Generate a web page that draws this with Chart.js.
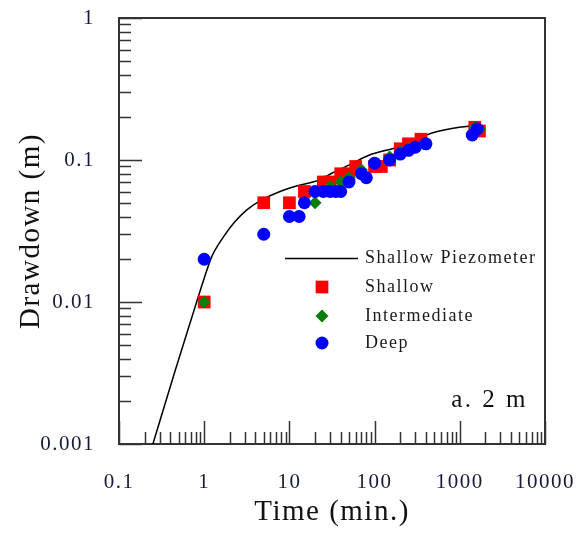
<!DOCTYPE html>
<html>
<head>
<meta charset="utf-8">
<script src="https://cdn.jsdelivr.net/npm/chart.js@4/dist/chart.umd.min.js"></script>
<style>
html,body{margin:0;padding:0;background:#fff;}
#wrap{width:582px;height:535px;}
</style>
</head>
<body>
<div id="wrap"><canvas id="c" width="582" height="535"></canvas></div>
<script>
// ---- Data ----
const piezoTime     = [0.25, 0.45, 0.815, 1.0, 1.22, 1.646, 2.274, 3.14, 4.46, 7.05, 12.1, 22.4, 31.8, 50, 86, 194, 471, 1054, 1700];
const piezoDrawdown = [0.001, 0.0032, 0.01, 0.0147, 0.0207, 0.0282, 0.0366, 0.0444, 0.0514, 0.0586, 0.0656, 0.0723, 0.081, 0.092, 0.108, 0.124, 0.155, 0.171, 0.176];

const shallowTime     = [1, 5, 10, 15, 25, 30, 40, 50, 60, 100, 120, 150, 200, 250, 350, 1500, 1700];
const shallowDrawdown = [0.01, 0.05, 0.05, 0.06, 0.07, 0.07, 0.08, 0.08, 0.09, 0.09, 0.09, 0.1, 0.12, 0.13, 0.14, 0.17, 0.16];

const intermediateTime     = [1, 20, 30, 40, 50, 70, 100, 150, 200, 250, 300, 400, 1500, 1700];
const intermediateDrawdown = [0.01, 0.05, 0.065, 0.07, 0.075, 0.085, 0.095, 0.105, 0.115, 0.12, 0.125, 0.13, 0.17, 0.165];

const deepTime     = [1, 5, 10, 13, 15, 20, 25, 30, 35, 40, 50, 70, 80, 100, 150, 200, 250, 300, 400, 1400, 1600];
const deepDrawdown = [0.02, 0.03, 0.04, 0.04, 0.05, 0.06, 0.06, 0.06, 0.06, 0.06, 0.07, 0.08, 0.075, 0.095, 0.1, 0.11, 0.117, 0.123, 0.13, 0.15, 0.165];

const xTickValues = [0.1, 1, 10, 100, 1000, 10000];
const xTickLabels = ['0.1', '1', '10', '100', '1000', '10000'];
const yTickValues = [0.001, 0.01, 0.1, 1];
const yTickLabels = ['0.001', '0.01', '0.1', '1'];

const seriesNames = ['Shallow Piezometer', 'Shallow', 'Intermediate', 'Deep'];
const panelLabel = 'a. 2 m';

// ---- helpers ----
const toPts = (xs, ys) => xs.map((x, i) => ({x: x, y: ys[i]}));
function labelFor(values, labels, v) {
  for (let i = 0; i < values.length; i++) {
    if (Math.abs(Math.log10(v) - Math.log10(values[i])) < 1e-6) return labels[i];
  }
  return '';
}
function minorValues(values) {
  const out = [];
  for (let i = 0; i < values.length - 1; i++) {
    for (let m = 2; m <= 9; m++) out.push(values[i] * m);
  }
  return out;
}

const SERIF = '"Liberation Serif", "Times New Roman", serif';
const SPACING = '1.5px';

const spacingPlugin = {
  id: 'spacing',
  beforeUpdate(chart) { chart.ctx.letterSpacing = SPACING; },
  beforeDraw(chart) { chart.ctx.letterSpacing = SPACING; }
};

const frameTicksPlugin = {
  id: 'frameTicks',
  beforeDatasetsDraw(chart) {
    const ctx = chart.ctx;
    const a = chart.chartArea;
    const xs = chart.scales.x, ys = chart.scales.y;
    ctx.save();
    ctx.strokeStyle = '#333';
    ctx.lineWidth = 1.5;
    ctx.beginPath();
    xTickValues.forEach(v => {
      const px = Math.round(xs.getPixelForValue(v)) + 0.5;
      ctx.moveTo(px, a.bottom); ctx.lineTo(px, a.bottom - 23);
    });
    minorValues(xTickValues).forEach(v => {
      const px = Math.round(xs.getPixelForValue(v)) + 0.5;
      ctx.moveTo(px, a.bottom); ctx.lineTo(px, a.bottom - 12);
    });
    yTickValues.forEach(v => {
      const py = Math.round(ys.getPixelForValue(v)) + 0.5;
      ctx.moveTo(a.left, py); ctx.lineTo(a.left + 23, py);
    });
    minorValues(yTickValues).forEach(v => {
      const py = Math.round(ys.getPixelForValue(v)) + 0.5;
      ctx.moveTo(a.left, py); ctx.lineTo(a.left + 12, py);
    });
    ctx.stroke();
    ctx.lineWidth = 2;
    ctx.strokeRect(a.left, a.top, a.right - a.left, a.bottom - a.top);
    ctx.restore();
  }
};

function drawMarker(ctx, style, r, x, y, color) {
  ctx.fillStyle = color;
  ctx.beginPath();
  if (style === 'rect') {
    const s = Math.SQRT1_2 * r;
    ctx.rect(x - s, y - s, 2 * s, 2 * s);
  } else if (style === 'rectRot') {
    ctx.moveTo(x - r, y); ctx.lineTo(x, y - r); ctx.lineTo(x + r, y); ctx.lineTo(x, y + r); ctx.closePath();
  } else {
    ctx.arc(x, y, r, 0, Math.PI * 2);
  }
  ctx.fill();
}

const legendPlugin = {
  id: 'insetLegend',
  afterDraw(chart) {
    const ctx = chart.ctx;
    const ds = chart.data.datasets;
    const rowsY = [258, 287, 316, 343];
    const markerX = 322, textX = 365;
    ctx.save();
    ctx.letterSpacing = SPACING;
    ctx.font = '18px ' + SERIF;
    ctx.textBaseline = 'middle';
    ctx.textAlign = 'left';
    ds.forEach((d, i) => {
      const y = rowsY[i];
      if (d.showLine) {
        ctx.strokeStyle = d.borderColor;
        ctx.lineWidth = 1.5;
        ctx.beginPath(); ctx.moveTo(285, y + 0.5); ctx.lineTo(358, y + 0.5); ctx.stroke();
      } else {
        drawMarker(ctx, d.pointStyle, d.pointRadius, markerX, y, d.backgroundColor);
      }
      ctx.fillStyle = '#1a1a1a';
      ctx.fillText(d.label, textX, y);
    });
    ctx.letterSpacing = '2.5px';
    ctx.font = '25px ' + SERIF;
    ctx.textAlign = 'right';
    ctx.textBaseline = 'alphabetic';
    ctx.fillStyle = '#111';
    ctx.fillText(panelLabel, 528, 407);
    ctx.restore();
  }
};

const tickColor = '#161c38';

new Chart(document.getElementById('c'), {
  type: 'scatter',
  data: {
    datasets: [
      {
        label: seriesNames[0],
        data: toPts(piezoTime, piezoDrawdown),
        showLine: true,
        borderColor: '#000',
        backgroundColor: '#000',
        borderWidth: 1.5,
        pointRadius: 0,
        cubicInterpolationMode: 'monotone',
        order: 4
      },
      {
        label: seriesNames[1],
        data: toPts(shallowTime, shallowDrawdown),
        pointStyle: 'rect',
        pointRadius: 9,
        pointBorderWidth: 0,
        backgroundColor: '#ff0000',
        borderColor: '#ff0000',
        order: 3
      },
      {
        label: seriesNames[2],
        data: toPts(intermediateTime, intermediateDrawdown),
        pointStyle: 'rectRot',
        pointRadius: 6.5,
        pointBorderWidth: 0,
        backgroundColor: '#0a7d0a',
        borderColor: '#0a7d0a',
        order: 2
      },
      {
        label: seriesNames[3],
        data: toPts(deepTime, deepDrawdown),
        pointStyle: 'circle',
        pointRadius: 6.5,
        pointBorderWidth: 0,
        backgroundColor: '#0000ff',
        borderColor: '#0000ff',
        order: 1
      }
    ]
  },
  options: {
    responsive: false,
    animation: false,
    devicePixelRatio: 1,
    layout: { padding: { top: 18, right: 37, left: 0, bottom: 0 } },
    plugins: {
      legend: { display: false },
      tooltip: { enabled: false }
    },
    scales: {
      x: {
        type: 'logarithmic',
        min: 0.1,
        max: 10000,
        grid: { display: false, drawTicks: false },
        border: { display: false },
        ticks: {
          autoSkip: false,
          maxRotation: 0,
          padding: 26,
          color: tickColor,
          font: { family: SERIF, size: 21 },
          callback: (v) => labelFor(xTickValues, xTickLabels, v)
        },
        title: {
          display: true,
          text: 'Time (min.)',
          color: '#111',
          font: { family: SERIF, size: 29 },
          padding: { top: 0, bottom: 5 }
        },
        afterFit: (s) => { s.height = 91; s.paddingLeft = 0; s.paddingRight = 0; }
      },
      y: {
        type: 'logarithmic',
        min: 0.001,
        max: 1,
        grid: { display: false, drawTicks: false },
        border: { display: false },
        ticks: {
          autoSkip: false,
          padding: 24,
          color: tickColor,
          font: { family: SERIF, size: 21 },
          callback: (v) => labelFor(yTickValues, yTickLabels, v)
        },
        title: {
          display: true,
          text: 'Drawdown (m)',
          color: '#111',
          font: { family: SERIF, size: 29 },
          padding: { top: 14, bottom: 0 }
        },
        afterFit: (s) => { s.width = 119; s.paddingTop = 0; s.paddingBottom = 0; }
      }
    }
  },
  plugins: [spacingPlugin, frameTicksPlugin, legendPlugin]
});
</script>
</body>
</html>
